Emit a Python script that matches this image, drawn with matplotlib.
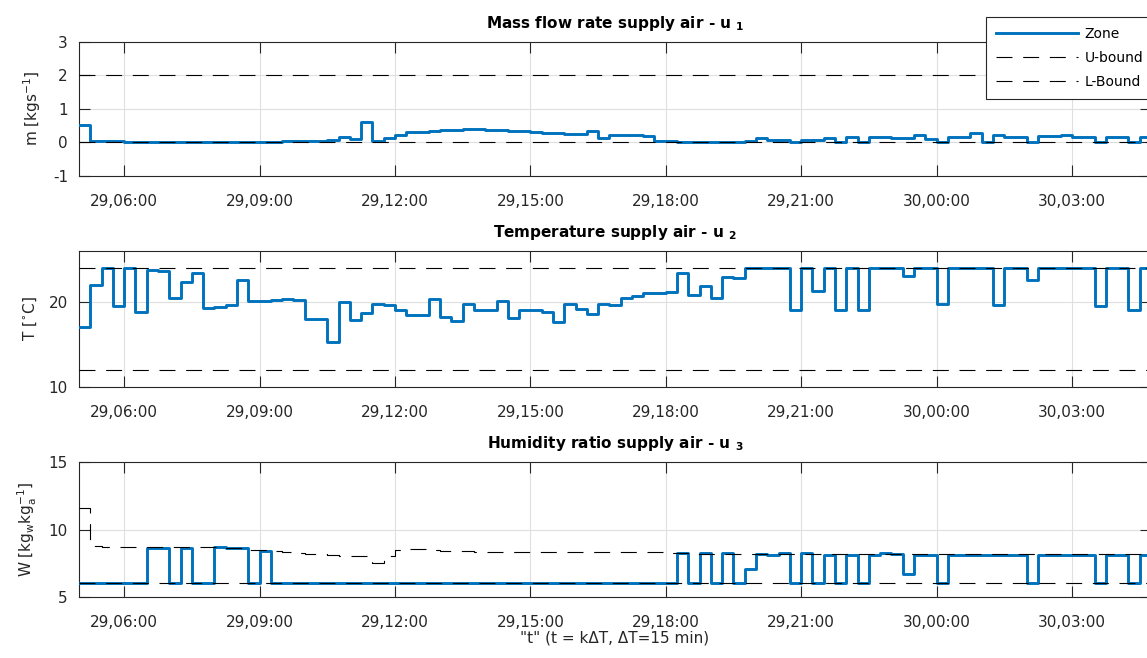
#!/usr/bin/env python3

import numpy as np
import matplotlib
matplotlib.use('Agg')
import matplotlib.pyplot as plt
import matplotlib.dates as mdates

plt.rcParams['font.family'] = ['DejaVu Sans']
plt.rcParams['mathtext.fontset'] = 'dejavusans'
plt.rcParams['lines.scale_dashes'] = False
plt.rcParams['axes.unicode_minus'] = False

# Control inputs, one value per 15 min step starting 29th 05:00
t0 = np.datetime64('2017-07-29T05:00')
step = np.timedelta64(15, 'm')

# u1: mass flow rate supply air [kg/s]
m_zone = [0.50, 0.04, 0.04, 0.03, 0.02, 0.02, 0.01, 0.01, 0.01, 0.01,
          0.01, 0.01, 0.01, 0.01, 0.02, 0.02, 0.01, 0.02, 0.03, 0.04,
          0.05, 0.05, 0.06, 0.16, 0.09, 0.61, 0.05, 0.12, 0.20, 0.29,
          0.31, 0.33, 0.35, 0.37, 0.38, 0.38, 0.37, 0.36, 0.34, 0.32,
          0.30, 0.28, 0.27, 0.25, 0.23, 0.32, 0.14, 0.21, 0.21, 0.20,
          0.19, 0.04, 0.03, 0.02, 0.01, 0.00, 0.00, 0.01, 0.01, 0.03,
          0.13, 0.07, 0.07, 0.00, 0.07, 0.07, 0.14, 0.00, 0.17, 0.00,
          0.17, 0.16, 0.13, 0.14, 0.21, 0.09, 0.00, 0.17, 0.17, 0.27,
          0.00, 0.21, 0.15, 0.15, 0.00, 0.18, 0.18, 0.20, 0.15, 0.15,
          0.00, 0.17, 0.17, 0.00, 0.17]
m_ub = 2.0
m_lb = 0.0

# u2: supply air temperature [C]
T_zone = [17.0, 22.05, 24.0, 19.5, 24.0, 18.8, 23.8, 23.7, 20.4, 22.4,
          23.4, 19.3, 19.45, 19.6, 22.6, 20.1, 20.15, 20.25, 20.35, 20.2,
          18.0, 18.0, 15.3, 19.95, 17.9, 18.65, 19.8, 19.65, 19.1, 18.5,
          18.5, 20.35, 18.2, 17.8, 19.7, 19.1, 19.0, 20.1, 18.1, 19.0,
          19.0, 18.8, 17.6, 19.7, 19.2, 18.6, 19.7, 19.65, 20.45, 20.7,
          21.0, 21.1, 21.2, 23.45, 20.8, 21.85, 20.5, 22.9, 22.85, 24.0,
          24.0, 24.0, 24.0, 19.1, 24.0, 21.3, 24.0, 19.1, 24.0, 19.1,
          24.0, 24.0, 24.0, 23.1, 24.0, 24.0, 19.7, 24.0, 24.0, 24.0,
          24.0, 19.6, 24.0, 24.0, 22.6, 24.0, 24.0, 24.0, 24.0, 24.0,
          19.5, 24.0, 24.0, 19.1, 24.0]
T_ub = 24.0
T_lb = 12.0

# u3: supply air humidity ratio [g/kg]
W_zone = [6.0, 6.0, 6.0, 6.0, 6.0, 6.0, 8.6, 8.6, 6.0, 8.6,
          6.0, 6.0, 8.7, 8.65, 8.6, 6.0, 8.4, 6.0, 6.0, 6.0,
          6.0, 6.0, 6.0, 6.0, 6.0, 6.0, 6.0, 6.0, 6.0, 6.0,
          6.0, 6.0, 6.0, 6.0, 6.0, 6.0, 6.0, 6.0, 6.0, 6.0,
          6.0, 6.0, 6.0, 6.0, 6.0, 6.0, 6.0, 6.0, 6.0, 6.0,
          6.0, 6.0, 6.0, 8.25, 6.0, 8.25, 6.0, 8.25, 6.0, 7.05,
          8.15, 8.12, 8.25, 6.0, 8.25, 6.0, 8.1, 6.0, 8.1, 6.0,
          8.1, 8.25, 8.2, 6.7, 8.1, 8.1, 6.0, 8.1, 8.1, 8.1,
          8.1, 8.1, 8.1, 8.1, 6.0, 8.1, 8.1, 8.1, 8.1, 8.1,
          6.0, 8.1, 8.1, 6.0, 8.1]
W_ub = [11.6, 8.75, 8.72, 8.7, 8.7, 8.68, 8.68, 8.68, 8.7, 8.7,
        8.7, 8.72, 8.72, 8.65, 8.6, 8.5, 8.45, 8.4, 8.3, 8.25,
        8.2, 8.15, 8.1, 8.05, 8.05, 8.05, 7.5, 8.0, 8.45, 8.55,
        8.55, 8.45, 8.42, 8.4, 8.38, 8.36, 8.35, 8.33, 8.32, 8.3,
        8.3, 8.3, 8.3, 8.3, 8.3, 8.3, 8.3, 8.36, 8.36, 8.35,
        8.35, 8.3, 8.25, 8.22, 8.2, 8.2, 8.2, 8.2, 8.15, 8.15,
        8.15, 8.15, 8.15, 8.15, 8.15, 8.15, 8.15, 8.15, 8.15, 8.15,
        8.2, 8.2, 8.2, 8.15, 8.15, 8.15, 8.15, 8.15, 8.15, 8.15,
        8.15, 8.15, 8.15, 8.15, 8.15, 8.15, 8.15, 8.15, 8.15, 8.15,
        8.15, 8.15, 8.15, 8.15, 8.15]
W_lb = 6.0

n = len(m_zone)
edges = t0 + step * np.arange(n + 1)

blue = '#0072BD'
axcol = '#262626'
dash = (0, (11.5, 7.7))


def stairs(ax, vals, **kw):
    vals = np.asarray(vals, dtype=float)
    return ax.step(edges, np.append(vals, vals[-1]), where='post', **kw)


W, H = 1147, 658
fig = plt.figure(figsize=(W / 100, H / 100), dpi=100)

boxes = [(41.7, 175.7), (251.0, 386.7), (462.3, 596.7)]
axes = []
for top, bot in boxes:
    ax = fig.add_axes([79 / W, 1 - bot / H, 1072 / W, (bot - top) / H])
    axes.append(ax)
ax1, ax2, ax3 = axes

# mass flow
stairs(ax1, m_zone, color=blue, lw=2.1, label='Zone', zorder=3)
stairs(ax1, np.full(n, m_ub), color='k', lw=0.8, ls=dash, label='U-bound', zorder=4)
stairs(ax1, np.full(n, m_lb), color='k', lw=0.8, ls=dash, label='L-Bound', zorder=4)
ax1.set_ylim(-1, 3)
ax1.set_yticks([-1, 0, 1, 2, 3])
ax1.set_ylabel(r'm [kgs$^{\mathregular{-1}}$]', fontsize=11, color=axcol, labelpad=7)
ax1.set_title(r'Mass flow rate supply air - u $_{\mathbf{1}}$', fontsize=11,
              fontweight='bold', pad=10)

# temperature
stairs(ax2, T_zone, color=blue, lw=2.1, zorder=3)
stairs(ax2, np.full(n, T_ub), color='k', lw=0.8, ls=dash, zorder=4)
stairs(ax2, np.full(n, T_lb), color='k', lw=0.8, ls=dash, zorder=4)
ax2.set_ylim(10, 26)
ax2.set_yticks([10, 20])
ax2.set_ylabel(r'T [$^{\circ}$C]', fontsize=11, color=axcol, labelpad=7)
ax2.set_title(r'Temperature supply air - u $_{\mathbf{2}}$', fontsize=11,
              fontweight='bold', pad=10)

# humidity ratio
stairs(ax3, W_zone, color=blue, lw=2.1, zorder=3)
stairs(ax3, W_ub, color='k', lw=0.8, ls=dash, zorder=4)
stairs(ax3, np.full(n, W_lb), color='k', lw=0.8, ls=dash, zorder=4)
ax3.set_ylim(5, 15)
ax3.set_yticks([5, 10, 15])
ax3.set_ylabel(r'W [kg$_{\mathregular{w}}$kg$_{\mathregular{a}}^{\mathregular{-1}}$]',
               fontsize=11, color=axcol, labelpad=7)
ax3.set_title(r'Humidity ratio supply air - u $_{\mathbf{3}}$', fontsize=11,
              fontweight='bold', pad=10)
ax3.set_xlabel('"t" (t = k\u0394T, \u0394T=15 min)', fontsize=11, color=axcol,
               labelpad=0.5)

for ax in axes:
    ax.set_xlim(edges[0], edges[-1])
    ax.xaxis.set_major_locator(mdates.HourLocator(byhour=range(0, 24, 3)))
    ax.xaxis.set_major_formatter(mdates.DateFormatter('%d,%H:%M'))
    ax.grid(True, color='#dfdfdf', lw=0.8)
    ax.set_axisbelow(True)
    ax.tick_params(direction='in', length=7.7, width=0.8, top=True, right=True,
                   colors=axcol, labelsize=11)
    ax.tick_params(axis='x', pad=13)
    ax.tick_params(axis='y', pad=8)
    for sp in ax.spines.values():
        sp.set_color(axcol)
        sp.set_linewidth(0.8)

leg = ax1.legend(loc='upper right', bbox_to_anchor=(1153 / W, 1 - 17 / H),
                 bbox_transform=fig.transFigure, fontsize=10, fancybox=False,
                 framealpha=1, edgecolor=axcol, borderaxespad=0, borderpad=0.72,
                 handlelength=5.9, handletextpad=0.45, labelspacing=0.72)
leg.get_frame().set_linewidth(0.8)
leg.set_zorder(10)

fig.savefig('out.png', dpi=100)
